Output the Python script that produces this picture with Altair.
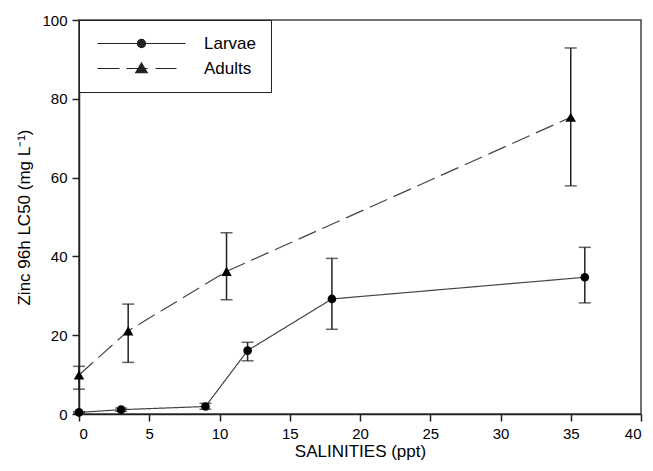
import altair as alt
import pandas as pd

# Larvae
larvae_x = [0, 3, 9, 12, 18, 36]
larvae_y = [0.4, 1.1, 1.9, 16.1, 29.2, 34.7]
larvae_lo = [0.2, 0.7, 1.2, 13.5, 21.5, 28.2]
larvae_hi = [0.6, 1.5, 2.7, 18.2, 39.5, 42.3]

# Adults
adults_x = [0, 3.5, 10.5, 35]
adults_y = [9.9, 21.1, 36.2, 75.3]
adults_lo = [6.3, 13.1, 29.0, 57.9]
adults_hi = [12.1, 27.9, 46.0, 92.9]

series_names = ["Larvae", "Adults"]

rows = []
for x, y, lo, hi in zip(larvae_x, larvae_y, larvae_lo, larvae_hi):
    rows.append({"series": "Larvae", "x": x, "y": y, "lo": lo, "hi": hi})
for x, y, lo, hi in zip(adults_x, adults_y, adults_lo, adults_hi):
    rows.append({"series": "Adults", "x": x, "y": y, "lo": lo, "hi": hi})
df = pd.DataFrame(rows)

FONT = "Liberation Sans"

xs = alt.X("x:Q", scale=alt.Scale(domain=[0, 40], nice=False),
           axis=alt.Axis(values=list(range(0, 41, 5)), title="SALINITIES (ppt)"))
ys = alt.Y("y:Q", scale=alt.Scale(domain=[0, 100], nice=False),
           axis=alt.Axis(values=list(range(0, 101, 20)), title="Zinc 96h LC50 (mg L⁻¹)"))


# legend glyphs: a line through a marker (unit = sqrt(symbolSize)/2 = 5px);
# markers are drawn as nested outlines so the stroke makes them look solid
def ring(r):
    return "M%.2f,0A%.2f,%.2f 0 1,0 %.2f,0A%.2f,%.2f 0 1,0 %.2f,0Z" % (-r, r, r, r, r, r, -r)


def tri(k):
    cy = 0.2
    pts = [(0, -1.1), (1.15, 0.85), (-1.15, 0.85)]
    q = [(px * k, cy + (py - cy) * k) for px, py in pts]
    return "M%.2f,%.2fL%.2f,%.2fL%.2f,%.2fZ" % (q[0] + q[1] + q[2])


p_larvae = "M-8.8,0H8.8" + "".join(ring(r) for r in [0.82, 0.64, 0.46, 0.28, 0.1])
p_adults = "M-8.8,0H-4.4M-3,0H1.2M2.8,0H7" + "".join(tri(k) for k in [1, 0.8, 0.6, 0.4, 0.2])

legend = alt.Legend(
    title=None, orient="none", legendX=0, legendY=0,
    strokeColor="#222", fillColor="white", padding=15,
    symbolSize=100, symbolOffset=39, labelOffset=54,
    labelFontSize=17, labelFont=FONT, labelColor="black",
    rowPadding=7,
    symbolStrokeColor="#222", symbolStrokeWidth=1.2, symbolOpacity=1,
)

base = alt.Chart(df)

lines = base.mark_line(color="#444", strokeWidth=1.2).encode(
    x=xs, y=ys,
    strokeDash=alt.StrokeDash("series:N", scale=alt.Scale(domain=series_names, range=[[1, 0], [19, 7]]), legend=None),
    detail="series:N",
)

rules = base.mark_rule(color="#222", strokeWidth=1.5).encode(
    x="x:Q", y="lo:Q", y2="hi:Q")
caps_lo = base.mark_tick(color="#222", orient="horizontal", size=12, thickness=1.5).encode(
    x="x:Q", y="lo:Q")
caps_hi = base.mark_tick(color="#222", orient="horizontal", size=12, thickness=1.5).encode(
    x="x:Q", y="hi:Q")

points = base.mark_point(filled=True, color="black", opacity=1).encode(
    x="x:Q", y="y:Q",
    shape=alt.Shape("series:N", scale=alt.Scale(domain=series_names, range=["circle", "triangle-up"]), legend=None),
    size=alt.Size("series:N", scale=alt.Scale(domain=series_names, range=[75, 110]), legend=None),
)

legend_layer = base.mark_point(filled=False, color="#222", opacity=0, size=100, strokeWidth=1.2).encode(
    x="x:Q", y="y:Q",
    shape=alt.Shape("series:N", scale=alt.Scale(domain=series_names, range=[p_larvae, p_adults]), legend=legend),
)

chart = alt.layer(lines, rules, caps_lo, caps_hi, points, legend_layer).resolve_scale(
    shape="independent"
).properties(
    width=562, height=394,
    padding={"left": 71, "top": 12, "right": 4, "bottom": 49},
    autosize=alt.AutoSizeParams(type="none"),
).configure_view(
    stroke="#444", strokeWidth=1.5
).configure_axis(
    grid=False, domainColor="#222", domainWidth=1.5, tickColor="#222", tickWidth=1.5,
    tickSize=7, labelFont=FONT, labelFontSize=15, labelColor="black",
    titleFont=FONT, titleFontSize=17, titleColor="black", titleFontWeight="normal",
).configure_axisY(
    titlePadding=8, labelPadding=5
).configure_axisX(
    titlePadding=2, labelPadding=5
)

chart.save("out.html", embed_options={"renderer": "svg", "actions": False})
